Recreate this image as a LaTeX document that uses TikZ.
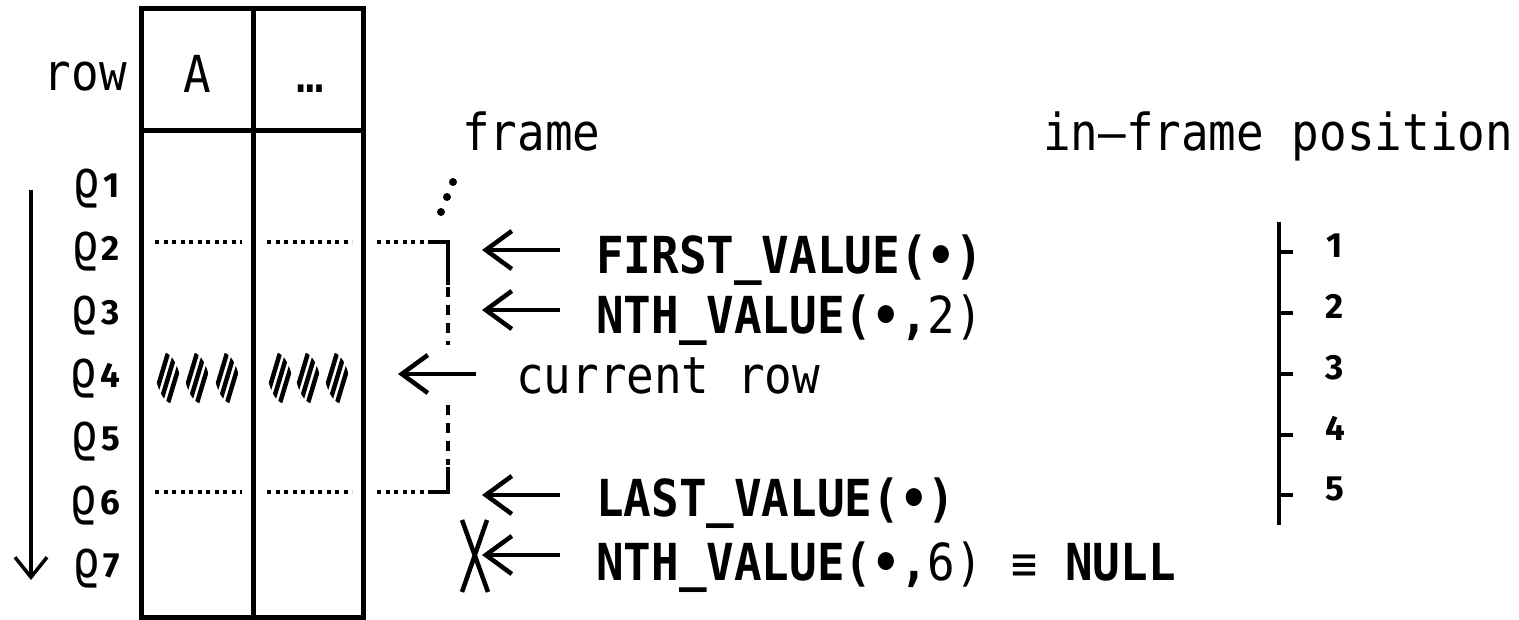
\documentclass[tikz,border=0pt]{standalone}
\usepackage{fontspec}
\setmainfont[FakeStretch=0.9]{DejaVu Sans Mono}
\newfontfamily\numfont[Numbers=Lining]{Fira Sans}
\usetikzlibrary{arrows.meta}
\newcommand\hatchgrp[2]{%
  \begin{scope}
    \clip[rotate around={12:(#1,#2)}] (#1,#2) ellipse [x radius=12, y radius=26];
    \foreach \d in {-7.5,0,7.5}
      \draw[line width=4.5pt] (#1+\d-9,#2+30) -- (#1+\d+9,#2-30);
  \end{scope}}
\begin{document}
\begin{tikzpicture}[x=1pt,y=-1pt,
  tbl/.style={line width=5pt},
  lbl/.style={inner sep=0pt, font=\fontsize{51}{60}\selectfont},
  bl/.style={inner sep=0pt, font=\fontsize{51}{60}\selectfont\bfseries},
  sub/.style={inner sep=0pt, font=\numfont\fontsize{35}{40}\selectfont\bfseries},
  larr/.style={line width=4.5pt, -{Straight Barb[length=26pt,width=38pt]}},
  dotln/.style={line width=4.5pt, dash pattern=on 4pt off 4.5pt},
  brk/.style={line width=4.5pt},
  dashv/.style={line width=4.5pt, dash pattern=on 10pt off 8pt}]
\useasboundingbox (0,0) rectangle (1519,619);
% table
\draw[tbl] (141,8) rectangle (363,617);
\draw[tbl] (253,8) -- (253,617);
\draw[tbl] (141,130) -- (363,130);
\node[lbl, anchor=base east] (rowlbl) at (127,90) {row};
\node[lbl, anchor=base] (colA) at (197,92) {A};
\node[lbl, anchor=base] (colB) at (310,92) {…};
% row labels
\foreach \i/\y in {1/185,2/248,3/312,4/375,5/438,6/502,7/565}
  \node[lbl, anchor=base east] (r\i) at (120,\y+12) {ϱ\hspace{3pt}{\numfont\fontsize{35}{40}\selectfont\bfseries\i}};
% order arrow
\coordinate (oa) at (31,190);
\coordinate (ob) at (31,580);
\draw[line width=3.5pt, -{Straight Barb[length=20pt,width=32pt]}] (oa) -- (ob);
% dotted frame bounds
\foreach \y in {242,492} {
  \draw[dotln] (155,\y) -- (242,\y);
  \draw[dotln] (267,\y) -- (352,\y);
  \draw[dotln] (377,\y) -- (430,\y);
}
\coordinate (bt) at (448,242);
\coordinate (bb) at (448,492);
\draw[brk] (428,242) -- (bt) -- (448,285);
\draw[dashv] (448,287) -- (448,345);
\draw[dashv] (448,405) -- (448,465);
\draw[brk] (448,467) -- (bb) -- (428,492);
% hatch (current row)
\hatchgrp{168}{378}\hatchgrp{197}{378}\hatchgrp{227}{378}
\hatchgrp{280}{378}\hatchgrp{308}{378}\hatchgrp{337}{378}
% dots above frame
\fill (441,212) circle (4);
\fill (447,197) circle (4);
\fill (453,182) circle (4);
% headings
\node[lbl, anchor=base west] (frame) at (462,150) {frame};
\node[lbl, anchor=base west] (pos) at (1043,150) {in–frame position};
% function labels
\node[bl, anchor=base west] (tF) at (596,273) {FIRST\_VALUE(•)};
\node[bl, anchor=base west] (tN2) at (596,333) {NTH\_VALUE(•,{\mdseries 2)}};
\node[lbl, anchor=base west] (tC) at (516,393) {current row};
\node[bl, anchor=base west] (tL) at (596,516) {LAST\_VALUE(•)};
\node[bl, anchor=base west] (tN6) at (596,580) {NTH\_VALUE(•,{\mdseries 6)} {\mdseries\fontsize{48}{54}\selectfont\makebox[27pt]{≡}} NULL};
% arrows
\coordinate (aFt) at (560,250); \coordinate (aFh) at (482,250);
\coordinate (aNt) at (560,310); \coordinate (aNh) at (482,310);
\coordinate (aCt) at (476,374); \coordinate (aCh) at (398,374);
\coordinate (aLt) at (560,495); \coordinate (aLh) at (482,495);
\coordinate (aXt) at (560,555); \coordinate (aXh) at (482,555);
\draw[larr] (aFt) -- (aFh);
\draw[larr] (aNt) -- (aNh);
\draw[larr] (aCt) -- (aCh);
\draw[larr] (aLt) -- (aLh);
\draw[larr] (aXt) -- (aXh);
% cross
\coordinate (x1) at (462,520); \coordinate (x2) at (488,592);
\coordinate (x3) at (487,520); \coordinate (x4) at (462,592);
\draw[brk] (x1) -- (x2);
\draw[brk] (x3) -- (x4);
% in-frame position axis
\coordinate (ax1) at (1279,222); \coordinate (ax2) at (1279,525);
\draw[brk] (ax1) -- (ax2);
\foreach \i/\y in {1/252,2/313,3/374,4/435,5/495} {
  \draw[brk] (1279,\y) -- (1293,\y);
  \node[sub, anchor=base] (p\i) at (1335,\y+5) {\i};
}
\end{tikzpicture}
\end{document}
